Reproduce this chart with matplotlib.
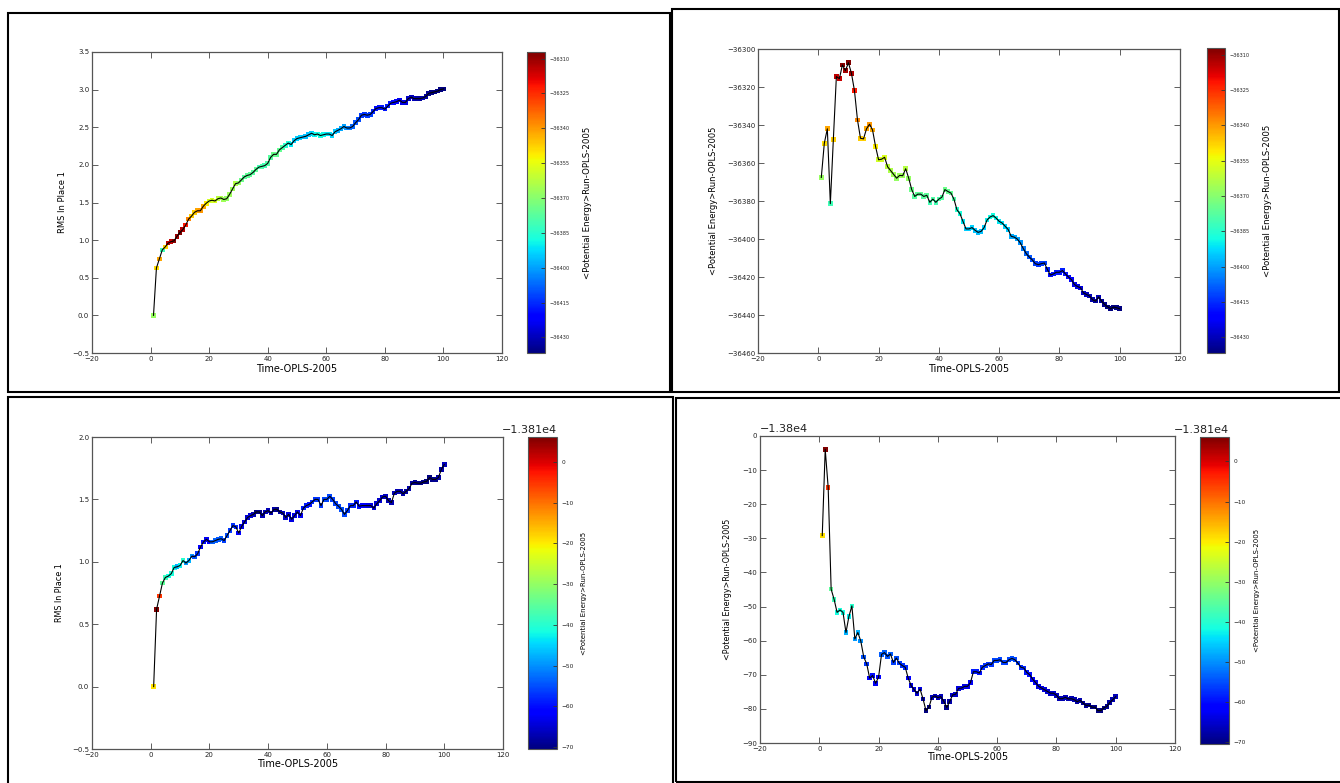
import matplotlib
matplotlib.use("Agg")
import matplotlib.pyplot as plt
import numpy as np
from matplotlib.patches import Rectangle
from matplotlib.ticker import ScalarFormatter

W, H = 1340, 783

time = np.arange(1, 101)

# run 1 (top row)
rms_run1 = [
    0.00, 0.63, 0.75, 0.87, 0.91, 0.96, 0.98, 0.99, 1.05, 1.10,
    1.14, 1.20, 1.28, 1.32, 1.37, 1.39, 1.39, 1.45, 1.49, 1.52,
    1.53, 1.52, 1.55, 1.56, 1.54, 1.55, 1.61, 1.68, 1.75, 1.76,
    1.80, 1.84, 1.86, 1.87, 1.90, 1.94, 1.97, 1.98, 1.99, 2.02,
    2.10, 2.14, 2.14, 2.20, 2.23, 2.26, 2.29, 2.27, 2.32, 2.35,
    2.36, 2.37, 2.38, 2.40, 2.42, 2.40, 2.41, 2.39, 2.40, 2.41,
    2.41, 2.39, 2.44, 2.46, 2.48, 2.51, 2.49, 2.49, 2.51, 2.56,
    2.60, 2.66, 2.67, 2.66, 2.67, 2.71, 2.75, 2.76, 2.76, 2.74,
    2.78, 2.82, 2.83, 2.84, 2.86, 2.83, 2.83, 2.88, 2.90, 2.88,
    2.88, 2.88, 2.89, 2.91, 2.95, 2.96, 2.97, 2.98, 3.00, 3.01,
]
energy_run1 = [
    -36367.6, -36349.6, -36342.0, -36381.4, -36347.5, -36314.5, -36315.6, -36308.4, -36311.4, -36307.2,
    -36312.8, -36321.9, -36337.3, -36347.0, -36347.3, -36342.0, -36339.6, -36342.6, -36351.3, -36358.3,
    -36358.0, -36357.0, -36362.0, -36364.0, -36366.0, -36368.0, -36366.5, -36366.7, -36363.0, -36368.0,
    -36374.0, -36377.6, -36376.4, -36376.4, -36377.6, -36377.0, -36380.7, -36379.0, -36380.7, -36379.0,
    -36378.0, -36374.0, -36375.0, -36375.8, -36379.0, -36384.6, -36386.7, -36390.7, -36394.7, -36394.7,
    -36394.0, -36395.4, -36396.5, -36396.0, -36394.0, -36390.0, -36388.4, -36387.7, -36389.0, -36390.7,
    -36391.6, -36393.3, -36395.0, -36398.6, -36399.0, -36400.0, -36402.0, -36405.0, -36407.7, -36409.5,
    -36411.0, -36413.0, -36413.5, -36413.0, -36412.6, -36416.0, -36419.0, -36418.4, -36417.5, -36417.5,
    -36416.6, -36418.4, -36420.0, -36421.4, -36424.0, -36425.0, -36425.7, -36428.4, -36429.2, -36430.0,
    -36432.0, -36432.7, -36430.5, -36432.7, -36434.5, -36435.7, -36436.7, -36435.8, -36436.2, -36436.7,
]

# run 2 (bottom row)
rms_run2 = [
    0.000, 0.620, 0.725, 0.830, 0.875, 0.885, 0.905, 0.955, 0.960, 0.970,
    1.010, 0.990, 1.010, 1.045, 1.040, 1.065, 1.120, 1.160, 1.180, 1.160,
    1.160, 1.170, 1.180, 1.185, 1.170, 1.210, 1.250, 1.290, 1.280, 1.230,
    1.285, 1.320, 1.355, 1.370, 1.380, 1.400, 1.400, 1.370, 1.400, 1.410,
    1.390, 1.420, 1.420, 1.400, 1.390, 1.355, 1.380, 1.340, 1.370, 1.400,
    1.370, 1.430, 1.450, 1.460, 1.480, 1.500, 1.500, 1.450, 1.500, 1.500,
    1.525, 1.500, 1.465, 1.445, 1.420, 1.380, 1.410, 1.450, 1.450, 1.480,
    1.445, 1.450, 1.450, 1.450, 1.450, 1.430, 1.465, 1.490, 1.520, 1.525,
    1.490, 1.475, 1.550, 1.565, 1.565, 1.545, 1.565, 1.585, 1.630, 1.635,
    1.630, 1.630, 1.640, 1.645, 1.675, 1.660, 1.660, 1.675, 1.740, 1.780,
]
energy_run2 = [
    -13829.2, -13803.9, -13815.1, -13844.9, -13847.9, -13851.7, -13851.0, -13851.7, -13857.6, -13852.9,
    -13849.8, -13859.5, -13857.6, -13860.1, -13864.8, -13866.8, -13871.0, -13870.2, -13872.5, -13870.7,
    -13864.0, -13863.5, -13864.6, -13863.9, -13866.4, -13865.1, -13866.6, -13867.3, -13867.8, -13871.0,
    -13873.2, -13874.4, -13875.4, -13874.2, -13877.1, -13880.5, -13879.5, -13876.6, -13876.2, -13876.7,
    -13876.4, -13877.8, -13879.6, -13877.8, -13875.9, -13875.7, -13874.0, -13873.9, -13873.4, -13873.4,
    -13872.3, -13869.1, -13869.1, -13869.5, -13867.8, -13867.3, -13866.8, -13867.0, -13865.8, -13865.8,
    -13865.6, -13866.4, -13866.4, -13865.6, -13865.2, -13865.6, -13866.6, -13867.8, -13868.0, -13869.3,
    -13870.0, -13871.3, -13872.3, -13873.4, -13873.9, -13874.4, -13874.9, -13875.4, -13875.4, -13876.0,
    -13877.0, -13877.0, -13876.6, -13877.1, -13877.0, -13877.3, -13877.9, -13877.5, -13878.3, -13879.0,
    -13878.9, -13879.5, -13879.5, -13880.5, -13880.5, -13879.7, -13879.3, -13878.1, -13877.3, -13876.4,
]

cbar_ticks_run1 = [-36310, -36325, -36340, -36355, -36370, -36385, -36400, -36415, -36430]
cbar_ticks_run2 = [-13810, -13820, -13830, -13840, -13850, -13860, -13870, -13880]

x_label = "Time-OPLS-2005"
rms_label = "RMS In Place 1"
energy_label = "<Potential Energy>Run-OPLS-2005"

plt.rcParams['font.family'] = ['DejaVu Sans']
narrow = ['Liberation Sans Narrow', 'DejaVu Sans']


def px_axes(fig, x0, y0, x1, y1):
    return fig.add_axes([x0 / W, 1 - y1 / H, (x1 - x0) / W, (y1 - y0) / H])


def style(ax, size):
    ax.tick_params(direction='in', top=True, right=True, length=4, width=0.6,
                   color='#444444', labelcolor='#222222', labelsize=size, pad=2)
    for sp in ax.spines.values():
        sp.set_color('#555555')
        sp.set_linewidth(0.9)


def panel(fig, box, cbox, y, c, ylim, yticks, ylabel, cticks,
          tick_size, cb_size, lab_fonts, lab_xy, offset=None, cb_offset=None):
    ax = px_axes(fig, *box)
    norm = plt.Normalize(min(c), max(c))
    sc = ax.scatter(time, y, c=c, cmap='jet', norm=norm, marker='s', s=11,
                    linewidths=0, zorder=2)
    ax.plot(time, y, color='black', lw=0.8, zorder=3)
    ax.set_xlim(-20, 120)
    ax.set_xticks([-20, 0, 20, 40, 60, 80, 100, 120])
    ax.set_ylim(*ylim)
    ax.set_yticks(yticks)
    fmt = ScalarFormatter(useOffset=offset if offset is not None else False)
    ax.yaxis.set_major_formatter(fmt)
    style(ax, tick_size)
    ax.yaxis.get_offset_text().set_fontsize(8)

    xl_font, yl_font, cl_font = lab_fonts
    ax.set_xlabel(x_label, **xl_font)
    ax.set_ylabel(ylabel, **yl_font)
    ax.xaxis.set_label_coords(0.5, lab_xy[0])
    ax.yaxis.set_label_coords(lab_xy[1], 0.5)

    cax = px_axes(fig, *cbox)
    cb = fig.colorbar(sc, cax=cax)
    cb.set_ticks(cticks)
    cb.ax.yaxis.set_major_formatter(
        ScalarFormatter(useOffset=cb_offset if cb_offset is not None else False))
    cb.ax.tick_params(direction='in', length=3, width=0.6, color='#333333',
                      labelcolor='#222222', labelsize=cb_size, pad=3)
    cb.outline.set_edgecolor('#555555')
    cb.outline.set_linewidth(0.8)
    cb.set_label(energy_label, **cl_font)
    cb.ax.yaxis.set_label_coords(lab_xy[2], 0.5)
    off = cb.ax.yaxis.get_offset_text()
    off.set_fontsize(8)
    off.set_horizontalalignment('right')
    off.set_x(1.0)
    return ax


fig = plt.figure(figsize=(W / 100, H / 100), dpi=100)

# frames around the four sub-figures
for x0, y0, x1, y1 in [(8, 13, 669.5, 391.5), (672, 9, 1338.5, 392),
                       (8, 397, 672.5, 800), (676, 398, 1350, 781.5)]:
    fig.patches.append(Rectangle((x0 / W, 1 - y1 / H), (x1 - x0) / W, (y1 - y0) / H,
                                 transform=fig.transFigure, fill=False,
                                 edgecolor='black', linewidth=1.5))

top_fonts = (dict(fontsize=7), dict(fontsize=6), dict(fontsize=6.2))
bot_fonts = (dict(fontsize=7), dict(fontsize=5.8, family=narrow),
             dict(fontsize=5.0, family=narrow))

panel(fig, (92, 52, 502, 353), (527, 52, 545, 353), rms_run1, energy_run1,
      (-0.5, 3.5), [-0.5, 0, 0.5, 1.0, 1.5, 2.0, 2.5, 3.0, 3.5], rms_label,
      cbar_ticks_run1, 5, 3.6, top_fonts, (-0.037, -0.061, 3.1))

panel(fig, (758, 49, 1180, 353), (1207, 48, 1225, 353), energy_run1, energy_run1,
      (-36460, -36300), list(range(-36460, -36299, 20)), energy_label,
      cbar_ticks_run1, 5, 3.6, top_fonts, (-0.036, -0.095, 3.1))

panel(fig, (92, 437, 503, 749), (528, 437, 557, 749), rms_run2, energy_run2,
      (-0.5, 2.0), [-0.5, 0, 0.5, 1.0, 1.5, 2.0], rms_label,
      cbar_ticks_run2, 5, 4.2, bot_fonts, (-0.031, -0.068, 1.83),
      cb_offset=-13810)

panel(fig, (760, 436, 1175, 743), (1200, 437, 1229, 744), energy_run2, energy_run2,
      (-13890, -13800), list(range(-13890, -13799, 10)), energy_label,
      cbar_ticks_run2, 5, 4.2, bot_fonts, (-0.03, -0.067, 1.86),
      offset=-13800, cb_offset=-13810)

fig.savefig("out.png", dpi=100)
